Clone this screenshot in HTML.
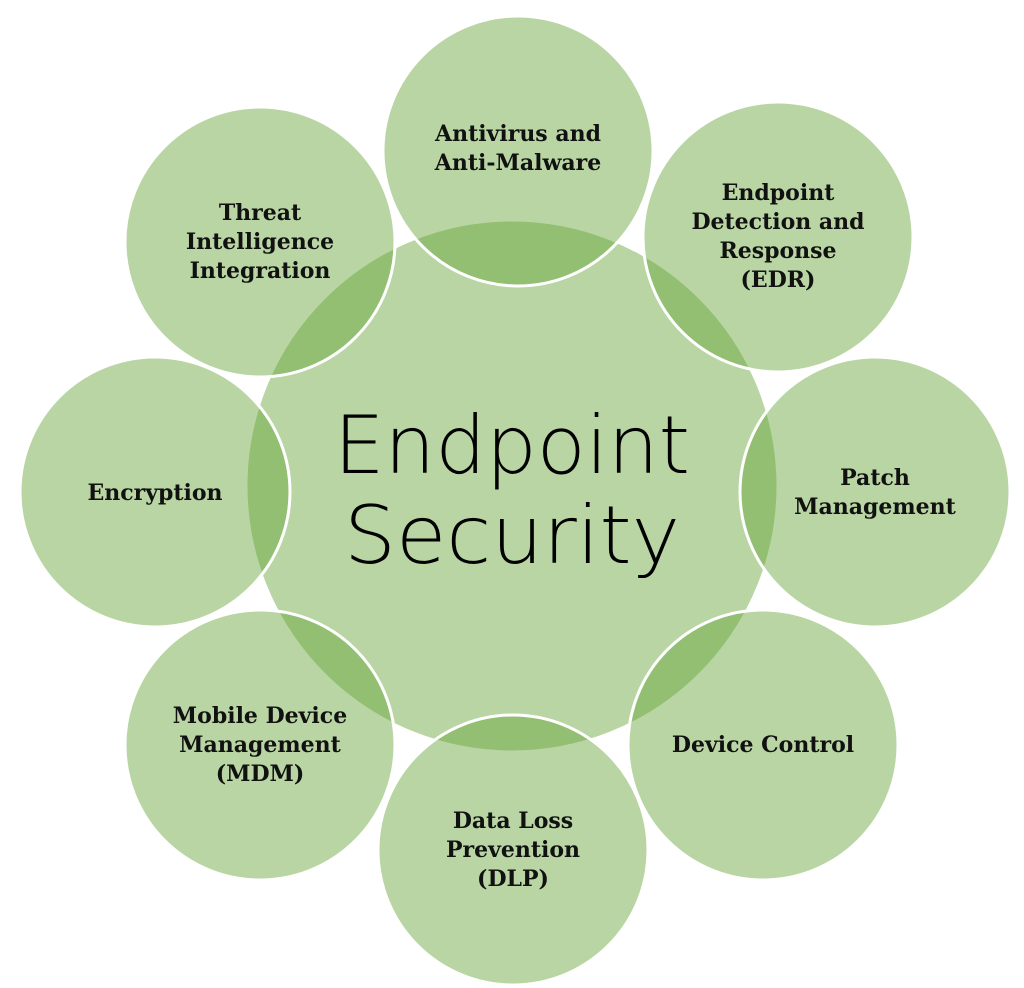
<!DOCTYPE html>
<html><head><meta charset="utf-8"><style>
html,body{margin:0;padding:0;background:#fff;}
svg{display:block;}
.l{font-family:"DejaVu Serif","Liberation Serif",serif;font-weight:bold;font-size:22px;fill:#111;text-anchor:middle;}
.c{font-family:"DejaVu Sans",sans-serif;font-weight:200;font-size:80px;fill:#000;text-anchor:middle;}
</style></head><body>
<svg width="1024" height="988" viewBox="0 0 1024 988">
<g fill="#6ba73f" fill-opacity="0.48" stroke="#fff" stroke-width="3">
<circle cx="512" cy="486" r="266"/>
<circle cx="518" cy="151" r="135"/>
<circle cx="778" cy="237" r="135"/>
<circle cx="875" cy="492" r="135"/>
<circle cx="763" cy="745" r="135"/>
<circle cx="513" cy="850" r="135"/>
<circle cx="260" cy="745" r="135"/>
<circle cx="155" cy="492" r="135"/>
<circle cx="260" cy="242" r="135"/>
</g>
<text class="c" x="512" y="473" textLength="356" lengthAdjust="spacingAndGlyphs">Endpoint</text>
<text class="c" x="512" y="563" textLength="336" lengthAdjust="spacingAndGlyphs">Security</text>
<text class="l" x="518" y="141">Antivirus and</text>
<text class="l" x="518" y="170">Anti-Malware</text>
<text class="l" x="778" y="200">Endpoint</text>
<text class="l" x="778" y="229">Detection and</text>
<text class="l" x="778" y="258">Response</text>
<text class="l" x="778" y="287">(EDR)</text>
<text class="l" x="875" y="485">Patch</text>
<text class="l" x="875" y="514">Management</text>
<text class="l" x="763" y="752">Device Control</text>
<text class="l" x="513" y="828">Data Loss</text>
<text class="l" x="513" y="857">Prevention</text>
<text class="l" x="513" y="886">(DLP)</text>
<text class="l" x="260" y="723">Mobile Device</text>
<text class="l" x="260" y="752">Management</text>
<text class="l" x="260" y="781">(MDM)</text>
<text class="l" x="155" y="500">Encryption</text>
<text class="l" x="260" y="220">Threat</text>
<text class="l" x="260" y="249">Intelligence</text>
<text class="l" x="260" y="278">Integration</text>
</svg>
</body></html>
